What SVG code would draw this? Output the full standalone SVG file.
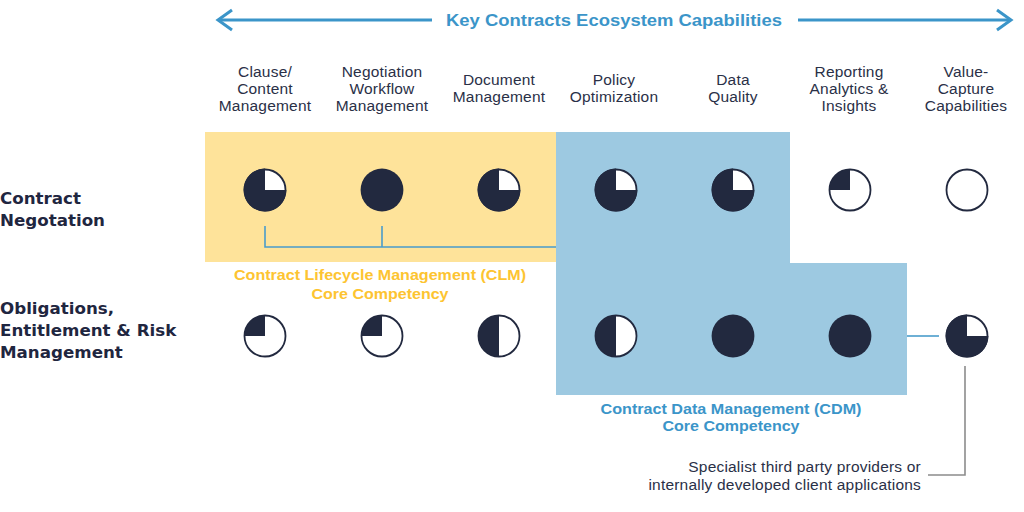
<svg xmlns="http://www.w3.org/2000/svg" xmlns:xlink="http://www.w3.org/1999/xlink" width="1024" height="512" viewBox="0 0 1024 512">
<style>
.col{font-family:"Liberation Sans",Arial,sans-serif;font-size:15.5px;letter-spacing:0.2px;fill:#2a3047;text-anchor:middle}
.row{font-family:"DejaVu Sans","Liberation Sans",sans-serif;font-size:16.7px;font-weight:bold;fill:#1f2640}
.clm{font-family:"Liberation Sans",Arial,sans-serif;font-size:15px;font-weight:bold;fill:#fdc431;text-anchor:middle}
.cdm{font-family:"Liberation Sans",Arial,sans-serif;font-size:15px;font-weight:bold;fill:#3b95c9;text-anchor:middle}
.note{font-family:"Liberation Sans",Arial,sans-serif;font-size:15.5px;letter-spacing:0.2px;fill:#2a3047;text-anchor:end}
.ring{fill:#fff;stroke:#22293f;stroke-width:1.8}
.dark{fill:#22293f}
.blue{stroke:#4a9ccb;stroke-width:1.6;fill:none}
</style>
<defs>
<g id="hb-0"><circle class="ring" r="20.5"/></g>
<g id="hb-25"><circle class="ring" r="20.5"/><path class="dark" d="M0,0 L0,-20.5 A20.5,20.5 0 0 0 -20.5,0 Z"/></g>
<g id="hb-50"><circle class="ring" r="20.5"/><path class="dark" d="M0,-20.5 A20.5,20.5 0 0 0 0,20.5 Z"/></g>
<g id="hb-75"><circle class="ring" r="20.5"/><path class="dark" d="M0,0 L0,-21.4 A21.4,21.4 0 1 0 21.4,0 Z"/></g>
<g id="hb-100"><circle class="dark" r="21.4"/></g>
</defs>

<g id="header">
<line x1="218" y1="20" x2="432" y2="20" stroke="#3b95c9" stroke-width="3"/>
<polyline points="232,10 218,20 232,30" fill="none" stroke="#3b95c9" stroke-width="3"/>
<line x1="798" y1="20" x2="1011" y2="20" stroke="#3b95c9" stroke-width="3"/>
<polyline points="997,10 1011,20 997,30" fill="none" stroke="#3b95c9" stroke-width="3"/>
<text x="614" y="26" font-family="Liberation Sans,Arial,sans-serif" font-size="17" font-weight="bold" fill="#3b95c9" text-anchor="middle" textLength="336" lengthAdjust="spacingAndGlyphs">Key Contracts Ecosystem Capabilities</text>
</g>

<g id="columns">
<text class="col" x="265" y="77">Clause/</text>
<text class="col" x="265" y="94">Content</text>
<text class="col" x="265" y="111">Management</text>
<text class="col" x="382" y="77">Negotiation</text>
<text class="col" x="382" y="94">Workflow</text>
<text class="col" x="382" y="111">Management</text>
<text class="col" x="499" y="85">Document</text>
<text class="col" x="499" y="102">Management</text>
<text class="col" x="614" y="85">Policy</text>
<text class="col" x="614" y="102">Optimization</text>
<text class="col" x="733" y="85">Data</text>
<text class="col" x="733" y="102">Quality</text>
<text class="col" x="849" y="77">Reporting</text>
<text class="col" x="849" y="94">Analytics &amp;</text>
<text class="col" x="849" y="111">Insights</text>
<text class="col" x="966" y="77">Value-</text>
<text class="col" x="966" y="94">Capture</text>
<text class="col" x="966" y="111">Capabilities</text>
</g>

<g id="rows">
<text class="row" x="0" y="204">Contract</text>
<text class="row" x="0" y="226">Negotation</text>
<text class="row" x="0" y="314">Obligations,</text>
<text class="row" x="0" y="336">Entitlement &amp; Risk</text>
<text class="row" x="0" y="358">Management</text>
</g>

<g id="clm-area">
<rect x="205" y="132" width="351" height="130" fill="#fee39a"/>
<text class="clm" x="380" y="280" textLength="292" lengthAdjust="spacingAndGlyphs">Contract Lifecycle Management (CLM)</text>
<text class="clm" x="380" y="299" textLength="137" lengthAdjust="spacingAndGlyphs">Core Competency</text>
</g>

<g id="cdm-area">
<path d="M556,132 H790 V263 H907 V395 H556 Z" fill="#9dc9e1"/>
<text class="cdm" x="731" y="414" textLength="261" lengthAdjust="spacingAndGlyphs">Contract Data Management (CDM)</text>
<text class="cdm" x="731" y="431" textLength="137" lengthAdjust="spacingAndGlyphs">Core Competency</text>
</g>

<g id="connectors">
<path class="blue" d="M265,226 V247 H556 M382,226 V247"/>
<line class="blue" x1="907" y1="336" x2="939" y2="336"/>
<path d="M965,366 V475 H928" fill="none" stroke="#8c8c8c" stroke-width="1.6"/>
</g>

<g id="note">
<text class="note" x="921" y="472">Specialist third party providers or</text>
<text class="note" x="921" y="490">internally developed client applications</text>
</g>

<g id="ball-r1-c1"><use xlink:href="#hb-75" x="265" y="190"/></g>
<g id="ball-r1-c2"><use xlink:href="#hb-100" x="382" y="190"/></g>
<g id="ball-r1-c3"><use xlink:href="#hb-75" x="499" y="190"/></g>
<g id="ball-r1-c4"><use xlink:href="#hb-75" x="616" y="190"/></g>
<g id="ball-r1-c5"><use xlink:href="#hb-75" x="733" y="190"/></g>
<g id="ball-r1-c6"><use xlink:href="#hb-25" x="850" y="190"/></g>
<g id="ball-r1-c7"><use xlink:href="#hb-0" x="967" y="190"/></g>
<g id="ball-r2-c1"><use xlink:href="#hb-25" x="265" y="336"/></g>
<g id="ball-r2-c2"><use xlink:href="#hb-25" x="382" y="336"/></g>
<g id="ball-r2-c3"><use xlink:href="#hb-50" x="499" y="336"/></g>
<g id="ball-r2-c4"><use xlink:href="#hb-50" x="616" y="336"/></g>
<g id="ball-r2-c5"><use xlink:href="#hb-100" x="733" y="336"/></g>
<g id="ball-r2-c6"><use xlink:href="#hb-100" x="850" y="336"/></g>
<g id="ball-r2-c7"><use xlink:href="#hb-75" x="967" y="336"/></g>
</svg>
